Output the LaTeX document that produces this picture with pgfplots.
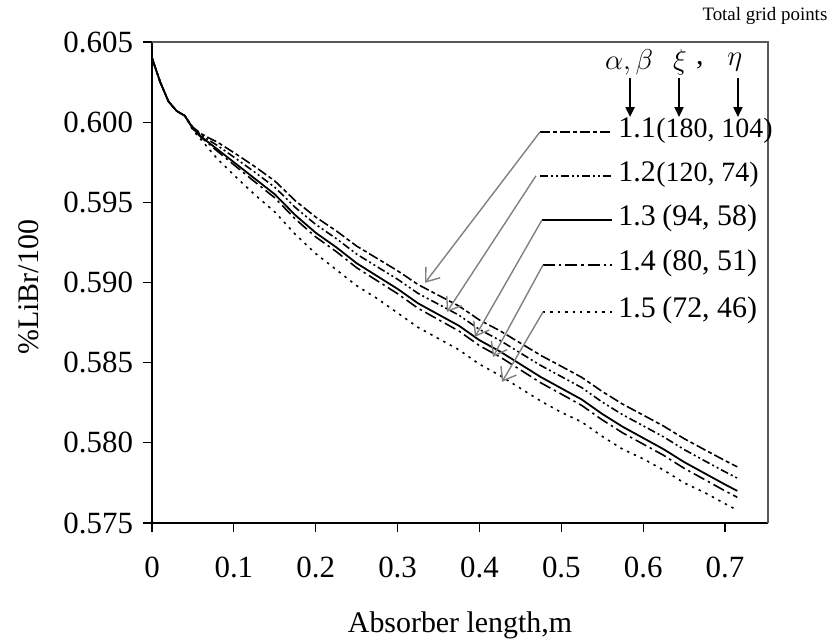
\documentclass[border=0pt]{standalone}
\usepackage{fontspec}
\setmainfont{Liberation Serif}
\usepackage{pgfplots}
\usepackage{pgfplotstable}
\pgfplotsset{compat=1.18}
\usetikzlibrary{arrows.meta}

\pgfplotstableread{
x      a        b        c       d        e
0      0.6040   0.6040   0.6040  0.6040   0.6040
0.01   0.6025   0.6025   0.6025  0.6025   0.6025
0.02   0.6013   0.6013   0.6013  0.6013   0.6013
0.03   0.6007   0.6007   0.6007  0.6007   0.6007
0.04   0.6004   0.6004   0.6004  0.6004   0.6004
0.05   0.59968  0.59964  0.5996  0.59958  0.5995
0.06   0.59928  0.5992   0.5991  0.59905  0.5989
0.07   0.5990   0.59886  0.5987  0.59862  0.5983
0.08   0.59875  0.59854  0.5983  0.59818  0.5977
0.10   0.5981   0.59782  0.5975  0.59734  0.5967
0.125  0.59725  0.5969   0.5965  0.5963   0.5955
0.15   0.59633  0.59594  0.5955  0.59528  0.5944
0.175  0.5951   0.59468  0.5942  0.59396  0.5930
0.20   0.59408  0.59362  0.5931  0.59284  0.5918
0.225  0.59322  0.59274  0.5922  0.59193  0.5908
0.25   0.59227  0.59177  0.5912  0.59092  0.5898
0.275  0.5915   0.59098  0.5904  0.59011  0.5890
0.30   0.59073  0.5902   0.5896  0.5893   0.5881
0.325  0.58987  0.58932  0.5887  0.58839  0.5872
0.35   0.5892   0.58864  0.5880  0.58768  0.5865
0.375  0.58853  0.58796  0.5873  0.58697  0.5858
0.40   0.58766  0.58707  0.5864  0.58606  0.5849
0.425  0.58699  0.58639  0.5857  0.58536  0.5842
0.45   0.58622  0.5856   0.5849  0.58455  0.5834
0.475  0.58545  0.58482  0.5841  0.58374  0.5826
0.50   0.58477  0.58413  0.5834  0.58304  0.5819
0.525  0.58408  0.58344  0.5827  0.58233  0.5813
0.55   0.5832   0.58254  0.5818  0.58143  0.5804
0.575  0.58241  0.58175  0.5810  0.58062  0.5796
0.60   0.58173  0.58106  0.5803  0.57992  0.5790
0.625  0.58104  0.58037  0.5796  0.57922  0.5783
0.65   0.58026  0.57958  0.5788  0.57841  0.5775
0.675  0.57957  0.57888  0.5781  0.57771  0.5769
0.70   0.57889  0.57819  0.5774  0.57700  0.5762
0.715  0.5785   0.5778   0.5770  0.5766   0.5758
}\data

\tikzset{
  sA/.style={line width=0.8pt, dash pattern=on 5bp off 1.5bp on 2bp off 1.5bp},
  sB/.style={line width=0.8pt, dash pattern=on 4bp off 1.5bp on 1bp off 1.5bp on 1bp off 1.5bp},
  sC/.style={line width=0.9pt},
  sD/.style={line width=0.8pt, dash pattern=on 6bp off 2bp on 1.2bp off 2bp},
  sE/.style={line width=0.8pt, dash pattern=on 1.2bp off 2.5bp},
  lead/.style={draw=gray, line width=0.7bp, -{Straight Barb[length=6bp,width=9bp]}},
  hdr/.style={line width=1bp, -{Triangle[length=5bp,width=4.5bp]}},
  big/.style={font=\fontsize{15}{18}\selectfont},
  mid/.style={font=\fontsize{14}{17}\selectfont},
}

\begin{document}
\begin{tikzpicture}
\begin{axis}[
  scale only axis,
  width=308bp, height=240.5bp,
  xmin=0, xmax=0.7525,
  ymin=0.575, ymax=0.605,
  enlargelimits=false,
  clip=false,
  axis x line*=bottom, axis y line*=left,
  axis line style={-, line width=0.7bp, black},
  xtick={0,0.1,0.2,0.3,0.4,0.5,0.6,0.7},
  ytick={0.575,0.580,0.585,0.590,0.595,0.600,0.605},
  tick align=outside,
  major tick length=4.5bp,
  tick style={black, line width=0.6bp},
  /pgf/number format/assume math mode=true,
  yticklabel style={/pgf/number format/fixed, /pgf/number format/fixed zerofill, /pgf/number format/precision=3, xshift=-1.5bp},
  xticklabel style={/pgf/number format/fixed, /pgf/number format/precision=1, yshift=-9bp},
  ticklabel style={font=\fontsize{15.5}{18}\selectfont},
  xlabel={Absorber length,m},
  ylabel={\%LiBr/100},
  label style={font=\fontsize{15}{18}\selectfont},
  xlabel style={at={(axis description cs:0.5,-0.212)}, anchor=center},
  ylabel style={at={(axis description cs:-0.2,0.49)}, anchor=center},
]
\coordinate (BBbl) at (rel axis cs:-0.2468,-0.2495);
\coordinate (BBtr) at (rel axis cs:1.1039,1.0873);

\draw[gray!70!black, line width=1bp] (rel axis cs:0,1) -- (rel axis cs:1,1) -- (rel axis cs:1,0);

\addplot[black, sA] table[x=x, y=a] {\data};
\addplot[black, sB] table[x=x, y=b] {\data};
\addplot[black, sC] table[x=x, y=c] {\data};
\addplot[black, sD] table[x=x, y=d] {\data};
\addplot[black, sE] table[x=x, y=e] {\data};

% legend-like annotations
\draw[sA] (axis cs:0.474,0.59939) -- (axis cs:0.562,0.59939);
\draw[sB] (axis cs:0.474,0.59665) -- (axis cs:0.562,0.59665);
\draw[sC] (axis cs:0.4764,0.59390) -- (axis cs:0.562,0.59390);
\draw[sD] (axis cs:0.4777,0.59110) -- (axis cs:0.562,0.59110);
\draw[sE] (axis cs:0.4777,0.58817) -- (axis cs:0.562,0.58817);

\draw[lead] (axis cs:0.474,0.59939) -- (axis cs:0.3335,0.58998);
\draw[lead] (axis cs:0.469,0.59665) -- (axis cs:0.3604,0.58817);
\draw[lead] (axis cs:0.4764,0.59390) -- (axis cs:0.3946,0.58661);
\draw[lead] (axis cs:0.4777,0.59110) -- (axis cs:0.4166,0.58536);
\draw[lead] (axis cs:0.4777,0.58817) -- (axis cs:0.4276,0.58380);

\tikzset{lt/.style={big, anchor=west, inner sep=0pt, text height=1.6ex, text depth=0.4ex},
         lm/.style={mid, anchor=west, inner sep=0pt, text height=1.6ex, text depth=0.4ex}}
\node[lt] at (axis cs:0.5693,0.59939) {1.1};
\node[lm] at (axis cs:0.6157,0.59939) {(180, 104)};
\node[lt] at (axis cs:0.5693,0.59665) {1.2};
\node[lm] at (axis cs:0.6157,0.59665) {(120, 74)};
\node[lt] at (axis cs:0.5693,0.59390) {1.3};
\node[lt] at (axis cs:0.623,0.59390) {(94, 58)};
\node[lt] at (axis cs:0.5693,0.59110) {1.4};
\node[lt] at (axis cs:0.623,0.59110) {(80, 51)};
\node[lt] at (axis cs:0.5693,0.58817) {1.5};
\node[lt] at (axis cs:0.623,0.58817) {(72, 46)};

% header
\node[big, inner sep=0pt] at (axis cs:0.5828,0.60375) {$\alpha,\beta$};
\node[big, inner sep=0pt] at (axis cs:0.645,0.60375) {$\xi$};
\node[big, inner sep=0pt] at (axis cs:0.6694,0.60355) {,};
\node[big, inner sep=0pt] at (axis cs:0.712,0.60375) {$\eta$};
\draw[hdr] (axis cs:0.584,0.60276) -- (axis cs:0.584,0.60032);
\draw[hdr] (axis cs:0.6438,0.60276) -- (axis cs:0.6438,0.60032);
\draw[hdr] (axis cs:0.7158,0.60276) -- (axis cs:0.7158,0.60032);

\node[font=\fontsize{9.5}{11}\selectfont, anchor=east, inner sep=0pt] at (rel axis cs:1.097,1.054) {Total grid points};
\end{axis}
\pgfresetboundingbox
\path[use as bounding box] (BBbl) rectangle (BBtr);
\end{tikzpicture}
\end{document}
